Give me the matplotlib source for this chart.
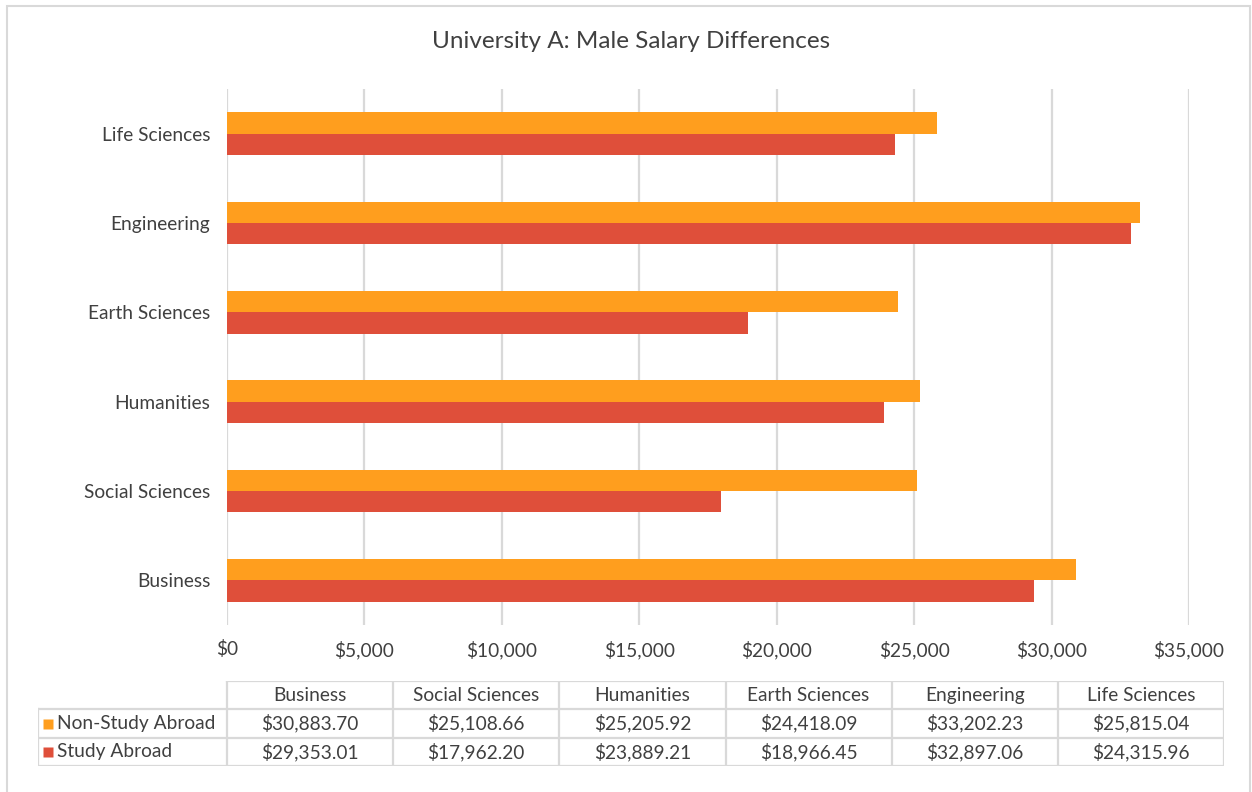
import matplotlib
matplotlib.use('Agg')
import matplotlib.pyplot as plt
from matplotlib.patches import Rectangle
import numpy as np

plt.rcParams['font.family'] = ['Lato', 'DejaVu Sans']

categories = ['Business', 'Social Sciences', 'Humanities', 'Earth Sciences', 'Engineering', 'Life Sciences']
non_study_abroad = [30883.70, 25108.66, 25205.92, 24418.09, 33202.23, 25815.04]
study_abroad = [29353.01, 17962.20, 23889.21, 18966.45, 32897.06, 24315.96]
series_names = ['Non-Study Abroad', 'Study Abroad']
xticks = [0, 5000, 10000, 15000, 20000, 25000, 30000, 35000]

orange = '#FF9E1E'
red = '#DF4F3A'
grid_col = '#D9D9D9'
txt_col = '#404040'
fs = 13.8

W, H = 1252, 792
fig = plt.figure(figsize=(W / 100, H / 100), dpi=100)

def px(x0, y0, x1, y1):
    # pixel box -> figure fraction
    return [x0 / W, 1 - y1 / H, (x1 - x0) / W, (y1 - y0) / H]

# outer border
fig.patches.append(Rectangle((7 / W, -0.01), (1250 - 7) / W, 1 - 6 / H + 0.01,
                             transform=fig.transFigure, fill=False,
                             edgecolor=grid_col, lw=1.5))

fig.text(631 / W, 1 - 42 / H, 'University A: Male Salary Differences',
         ha='center', va='center', fontsize=17.5, color=txt_col)

ax = fig.add_axes(px(227, 89, 1189, 625))
y = np.arange(len(categories))
h = 0.24
ax.barh(y + h / 2, non_study_abroad, height=h, color=orange, zorder=3)
ax.barh(y - h / 2, study_abroad, height=h, color=red, zorder=3)
ax.set_ylim(-0.5, len(categories) - 0.5)
ax.set_xlim(0, 35000)
ax.set_yticks(y)
ax.set_yticklabels(categories)
ax.set_xticks(xticks)
ax.set_xticklabels(['${:,}'.format(v) for v in xticks])
ax.tick_params(length=0, labelsize=fs, colors=txt_col)
ax.tick_params(axis='y', pad=12)
ax.tick_params(axis='x', pad=11)
for s in ax.spines.values():
    s.set_visible(False)
ax.grid(axis='x', color=grid_col, lw=1.6, zorder=0)
ax.set_axisbelow(True)

# data table
colw = (1224 - 227) / 6
leg_w = (227 - 38) / colw
tax = fig.add_axes(px(38, 681, 1224, 766))
tax.set_xlim(-leg_w, 6)
tax.set_ylim(3, 0)
tax.axis('off')
lkw = dict(color=grid_col, lw=1.6, solid_capstyle='projecting')
tax.plot([0, 6], [0, 0], **lkw)
for r in [1, 2, 3]:
    tax.plot([-leg_w, 6], [r, r], **lkw)
tax.plot([-leg_w, -leg_w], [1, 3], **lkw)
for c in range(7):
    tax.plot([c, c], [0, 3], **lkw)
for c, name in enumerate(categories):
    tax.text(c + 0.5, 0.5, name, ha='center', va='center', fontsize=fs, color=txt_col)
for r, (vals, col, name) in enumerate(zip([non_study_abroad, study_abroad], [orange, red], series_names)):
    tax.plot(-leg_w + 0.06, r + 1.5, marker='s', ms=7, color=col, mec='none')
    tax.text(-leg_w + 0.115, r + 1.5, name, ha='left', va='center', fontsize=fs, color=txt_col)
    for c, v in enumerate(vals):
        tax.text(c + 0.5, r + 1.5, '${:,.2f}'.format(v), ha='center', va='center',
                 fontsize=fs, color=txt_col)

fig.savefig('out.png', dpi=100, facecolor='white')
